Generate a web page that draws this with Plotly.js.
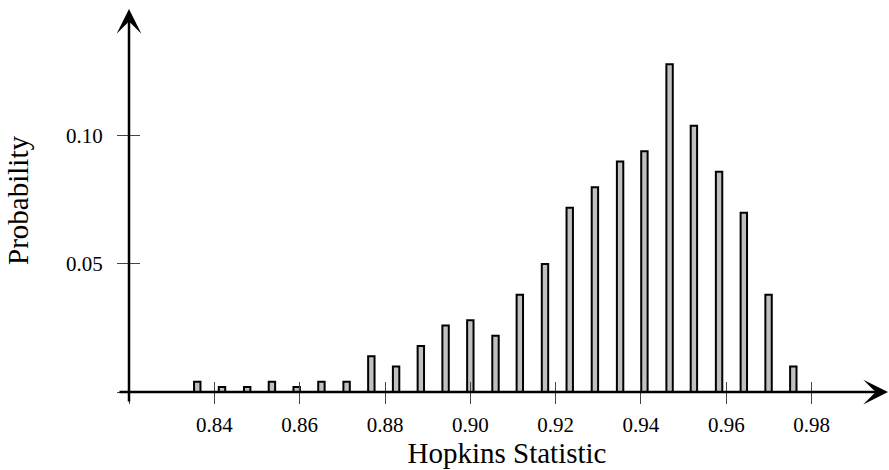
<!DOCTYPE html>
<html>
<head>
<meta charset="utf-8">
<script src="https://cdn.plot.ly/plotly-3.0.1.min.js"></script>
<style>html,body{margin:0;padding:0;background:#fff;}#chart{width:889px;height:470px;}</style>
</head>
<body>
<div id="chart"></div>
<script>
// Bin centres of the Hopkins statistic histogram
const binCenters = [0.8360, 0.8418, 0.8477, 0.8535, 0.8593, 0.8651, 0.8710, 0.8768, 0.8826, 0.8884,
                    0.8942, 0.9000, 0.9059, 0.9116, 0.9175, 0.9233, 0.9292, 0.9351, 0.9408, 0.9467,
                    0.9524, 0.9583, 0.9641, 0.9699, 0.9757];
const probabilities = [0.004, 0.002, 0.002, 0.004, 0.002, 0.004, 0.004, 0.014, 0.010, 0.018,
                       0.026, 0.028, 0.022, 0.038, 0.050, 0.072, 0.080, 0.090, 0.094, 0.128,
                       0.104, 0.086, 0.070, 0.038, 0.010];
const xTickVals = [0.82, 0.84, 0.86, 0.88, 0.90, 0.92, 0.94, 0.96, 0.98];
const xTickText = ['', '0.84', '0.86', '0.88', '0.90', '0.92', '0.94', '0.96', '0.98'];
const yTickVals = [0, 0.05, 0.10];
const yTickText = ['', '0.05', '0.10'];
const xTitle = 'Hopkins Statistic';
const yTitle = 'Probability';

const xRange = [0.82, 0.99719];
const yRange = [0, 0.1496];
const serif = '"Liberation Serif", "Times New Roman", serif';

const traces = [
  {
    type: 'bar',
    x: binCenters,
    y: probabilities,
    width: 0.0015,
    marker: {color: '#c0c0c0', line: {color: '#000', width: 2}},
    hoverinfo: 'x+y',
    showlegend: false
  },
  { type: 'scatter', mode: 'markers', x: [], y: [], xaxis: 'x2', yaxis: 'y2', showlegend: false }
];

const tickCol = '#444';
const layout = {
  width: 889, height: 470,
  margin: {l: 129, r: 4, t: 9, b: 78, pad: 0},
  paper_bgcolor: '#fff', plot_bgcolor: '#fff',
  font: {family: serif, color: '#000', size: 21},
  bargap: 0,
  xaxis: {
    range: xRange, showgrid: false, zeroline: false, showline: false,
    tickmode: 'array', tickvals: xTickVals, ticktext: xTickText,
    ticks: 'outside', ticklen: 11, tickwidth: 1, tickcolor: tickCol,
    ticklabelstandoff: 3,
    tickfont: {family: serif, size: 21, color: '#000'},
    title: {text: xTitle, font: {family: serif, size: 29, color: '#000'}, standoff: 4},
    fixedrange: true
  },
  yaxis: {
    range: yRange, showgrid: false, zeroline: false, showline: false,
    tickmode: 'array', tickvals: yTickVals, ticktext: yTickText,
    ticks: 'outside', ticklen: 11, tickwidth: 1, tickcolor: tickCol,
    ticklabelstandoff: 10,
    tickfont: {family: serif, size: 21, color: '#000'},
    title: {text: yTitle, font: {family: serif, size: 29, color: '#000'}, standoff: 28},
    fixedrange: true
  },
  xaxis2: {
    range: xRange, overlaying: 'x', anchor: 'y2', side: 'bottom',
    showgrid: false, zeroline: false, showline: false, showticklabels: false,
    tickmode: 'array', tickvals: xTickVals,
    ticks: 'inside', ticklen: 10, tickwidth: 1, tickcolor: tickCol, fixedrange: true
  },
  yaxis2: {
    range: yRange, overlaying: 'y', anchor: 'x2', side: 'left',
    showgrid: false, zeroline: false, showline: false, showticklabels: false,
    tickmode: 'array', tickvals: yTickVals,
    ticks: 'inside', ticklen: 11, tickwidth: 1, tickcolor: tickCol, fixedrange: true
  },
  annotations: [
    { xref: 'paper', yref: 'paper', x: (903 - 129) / 756, y: 0, text: '',
      showarrow: true, ax: -(903 - 118), ay: 0, axref: 'pixel', ayref: 'pixel',
      arrowhead: 3, arrowsize: 1.65, arrowwidth: 2.5, arrowcolor: '#000', standoff: 0 },
    { xref: 'paper', yref: 'paper', x: 0, y: 1, text: '',
      showarrow: true, ax: 0, ay: 394, axref: 'pixel', ayref: 'pixel',
      arrowhead: 3, arrowsize: 1.65, arrowwidth: 2.5, arrowcolor: '#000', standoff: 0 }
  ]
};

Plotly.newPlot('chart', traces, layout, {displayModeBar: false, responsive: false, staticPlot: true});
</script>
</body>
</html>
